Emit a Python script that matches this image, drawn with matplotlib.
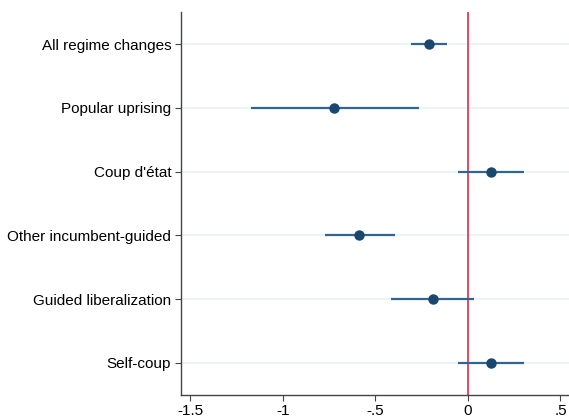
import matplotlib
matplotlib.use("Agg")
import matplotlib.pyplot as plt

categories = ["All regime changes", "Popular uprising", "Coup d'état",
              "Other incumbent-guided", "Guided liberalization", "Self-coup"]
estimates = [-0.211, -0.721, 0.123, -0.586, -0.189, 0.123]
ci_low = [-0.308, -1.173, -0.052, -0.773, -0.413, -0.052]
ci_high = [-0.115, -0.265, 0.301, -0.395, 0.034, 0.301]
xticks = [-1.5, -1, -0.5, 0, 0.5]
xticklabels = ["-1.5", "-1", "-.5", "0", ".5"]

plt.rcParams['font.family'] = ['Liberation Sans', 'DejaVu Sans']

fig = plt.figure(figsize=(5.69, 4.19), dpi=100)
ax = fig.add_axes([0.318, 0.058, 0.682, 0.913])

ypos = list(range(1, len(categories) + 1))
for y in ypos:
    ax.axhline(y, color="#eaf2f3", lw=1.2, zorder=0)
ax.axvline(0, color="#e8273f", lw=1.2, zorder=1)
ax.hlines(ypos, ci_low, ci_high, color="#2f6590", lw=1.6, zorder=2)
ax.plot(estimates, ypos, "o", color="#1a476f", ms=6.5, zorder=3)

ax.set_ylim(6.5, 0.5)
ax.set_xlim(-1.549, 0.546)
ax.set_yticks(ypos)
ax.set_yticklabels(categories, fontsize=11)
ax.set_xticks(xticks)
ax.set_xticklabels(xticklabels, fontsize=11)
for s in ["top", "right"]:
    ax.spines[s].set_visible(False)
for s in ["left", "bottom"]:
    ax.spines[s].set_color("#444444")
    ax.spines[s].set_linewidth(1.0)
ax.tick_params(axis="both", length=4, width=0.8, color="#444444", pad=3)

fig.savefig("out.png", dpi=100)
